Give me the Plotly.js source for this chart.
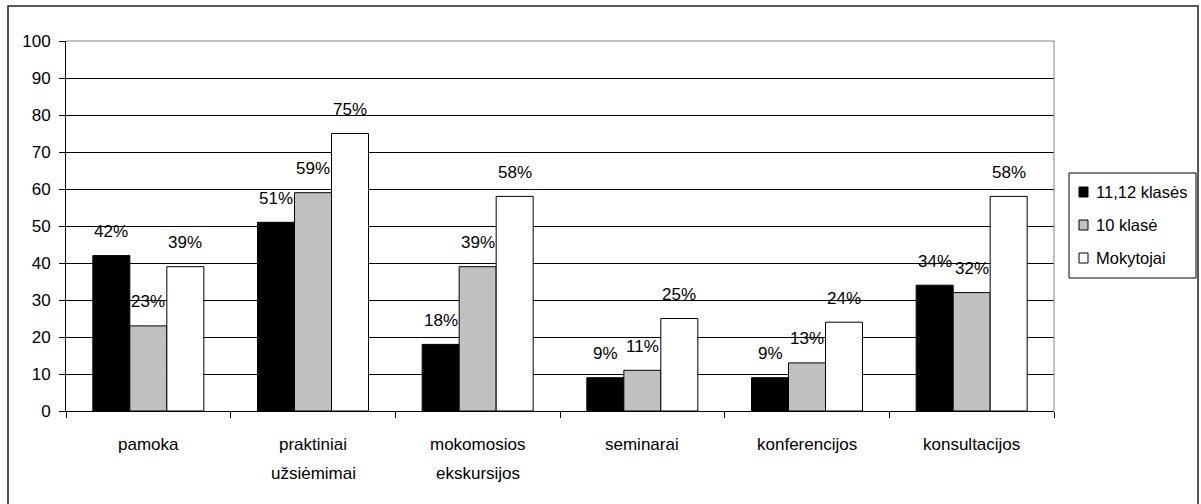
<!DOCTYPE html>
<html>
<head>
<meta charset="utf-8">
<script src="https://cdn.plot.ly/plotly-3.0.1.min.js"></script>
<style>html,body{margin:0;padding:0;background:#fff;}#chart{width:1201px;height:504px;}</style>
</head>
<body>
<div id="chart"></div>
<script>
const categories = ['pamoka', 'praktiniai<br>užsiėmimai', 'mokomosios<br>ekskursijos', 'seminarai', 'konferencijos', 'konsultacijos'];
const seriesNames = ['11,12 klasės', '10 klasė', 'Mokytojai'];
const values1112 = [42, 51, 18, 9, 9, 34];
const values10 = [23, 59, 39, 11, 13, 32];
const valuesMokytojai = [39, 75, 58, 25, 24, 58];
const yTickValues = [0, 10, 20, 30, 40, 50, 60, 70, 80, 90, 100];

const seriesValues = [values1112, values10, valuesMokytojai];
const seriesColors = ['#000000', '#c0c0c0', '#ffffff'];

const FONT = 'Liberation Sans, Arial, sans-serif';
const FS = 17;
const W = 1201, H = 504;
const M = {l: 66, r: 147, t: 41, b: 93};
const PW = W - M.l - M.r, PH = H - M.t - M.b;
const px = v => (v - M.l) / PW;
const py = v => (H - M.b - v) / PH;

const barWidth = 0.2247;
const groupStart = -1.5 * barWidth;
const xIdx = categories.map((_, i) => i);

const traces = seriesValues.map((vals, s) => ({
  type: 'bar',
  name: seriesNames[s],
  x: xIdx,
  y: vals,
  width: barWidth,
  offset: groupStart + s * barWidth,
  marker: {color: seriesColors[s], line: {color: '#000', width: 1}},
  showlegend: false,
  hoverinfo: 'skip'
}));

const annotations = [];
// value labels
seriesValues.forEach((vals, s) => {
  vals.forEach((v, i) => {
    annotations.push({
      x: i + groupStart + s * barWidth + barWidth / 2, y: v, xref: 'x', yref: 'y',
      text: v + '%', showarrow: false, yanchor: 'middle', xanchor: 'center', yshift: 24,
      font: {family: FONT, size: FS, color: '#000'}
    });
  });
});
// category labels
categories.forEach((c, i) => {
  c.split('<br>').forEach((line, k) => {
    annotations.push({
      x: i, y: py(444 + k * 29), xref: 'x', yref: 'paper',
      text: line, showarrow: false, yanchor: 'middle', xanchor: 'center',
      font: {family: FONT, size: FS, color: '#000'}
    });
  });
});
// legend text
const legendY = [192, 225, 258];
seriesNames.forEach((n, s) => {
  annotations.push({
    x: px(1094), y: py(legendY[s]), xref: 'paper', yref: 'paper',
    text: n, showarrow: false, xanchor: 'left', yanchor: 'middle',
    font: {family: FONT, size: 16.5, color: '#000'}
  });
});

const shapes = [
  // outer frame
  {type: 'rect', xref: 'paper', yref: 'paper', x0: px(8), x1: px(1198), y0: py(506), y1: py(6),
   line: {color: '#222', width: 1.5}, fillcolor: 'rgba(0,0,0,0)', layer: 'below'},
  // plot area top and right border
  {type: 'line', xref: 'paper', yref: 'paper', x0: 0, x1: 1, y0: 1, y1: 1, line: {color: '#808080', width: 1}, layer: 'above'},
  {type: 'line', xref: 'paper', yref: 'paper', x0: 1, x1: 1, y0: 0, y1: 1, line: {color: '#808080', width: 1}, layer: 'above'},
  // legend box
  {type: 'rect', xref: 'paper', yref: 'paper', x0: px(1069), x1: px(1196), y0: py(278), y1: py(173),
   line: {color: '#000', width: 1}, fillcolor: '#fff', layer: 'above'}
];
legendY.forEach((cy, s) => {
  shapes.push({type: 'rect', xref: 'paper', yref: 'paper', x0: px(1079), x1: px(1088), y0: py(cy + 5), y1: py(cy - 5),
    line: {color: '#000', width: 1}, fillcolor: seriesColors[s], layer: 'above'});
});

const boundaries = [];
for (let i = 0; i <= categories.length; i++) boundaries.push(i - 0.5);

const layout = {
  width: W, height: H,
  margin: M,
  paper_bgcolor: '#fff', plot_bgcolor: '#fff',
  font: {family: FONT, size: FS, color: '#000'},
  barmode: 'overlay',
  showlegend: false,
  xaxis: {
    range: [-0.5, categories.length - 0.5],
    tickvals: boundaries, showticklabels: false,
    ticks: 'outside', ticklen: 6, tickcolor: '#000', tickwidth: 1,
    showgrid: false, zeroline: false,
    showline: true, linecolor: '#000', linewidth: 1,
    fixedrange: true
  },
  yaxis: {
    range: [0, 100], tickvals: yTickValues,
    ticks: 'outside', ticklen: 6, tickcolor: '#000', tickwidth: 1,
    ticklabelstandoff: 5,
    tickfont: {family: FONT, size: FS, color: '#000'},
    showgrid: true, gridcolor: '#000', gridwidth: 1,
    zeroline: false,
    showline: true, linecolor: '#000', linewidth: 1,
    fixedrange: true
  },
  annotations: annotations,
  shapes: shapes
};

Plotly.newPlot('chart', traces, layout, {displayModeBar: false, staticPlot: true});
</script>
</body>
</html>
